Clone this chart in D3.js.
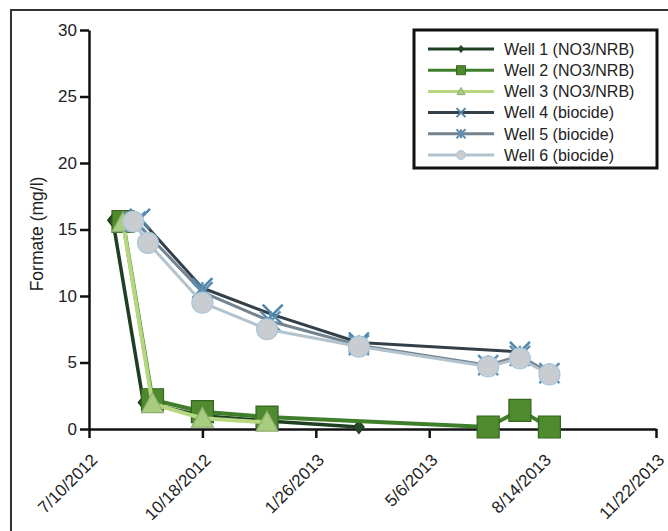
<!DOCTYPE html>
<html>
<head>
<meta charset="utf-8">
<script src="https://cdn.jsdelivr.net/npm/d3@7/dist/d3.min.js"></script>
<style>
  html, body { margin: 0; padding: 0; background: #fff; }
  svg { display: block; font-family: "Liberation Sans", Arial, Helvetica, sans-serif; }
</style>
</head>
<body>
<svg id="chart" width="668" height="531"></svg>
<script>
// Formate concentration per well over time
const well1Dates = ["7/31/2012", "8/27/2012", "10/18/2012", "12/14/2012", "3/5/2013"];
const well1Values = [15.7, 2.0, 1.0, 0.6, 0.15];

const well2Dates = ["8/9/2012", "9/4/2012", "10/18/2012", "12/14/2012", "6/27/2013", "7/25/2013", "8/20/2013"];
const well2Values = [15.6, 2.2, 1.3, 0.9, 0.15, 1.4, 0.15];

const well3Dates = ["8/9/2012", "9/4/2012", "10/18/2012", "12/14/2012"];
const well3Values = [15.5, 1.9, 0.8, 0.5];

const well4Dates = ["8/24/2012", "10/18/2012", "12/19/2012", "3/5/2013", "7/25/2013"];
const well4Values = [15.8, 10.6, 8.6, 6.5, 5.8];

const well5Dates = ["8/20/2012", "10/18/2012", "12/17/2012", "3/5/2013", "6/27/2013", "7/25/2013", "8/20/2013"];
const well5Values = [15.6, 10.3, 8.1, 6.3, 4.8, 5.5, 4.2];

const well6Dates = ["8/18/2012", "8/31/2012", "10/18/2012", "12/14/2012", "3/5/2013", "6/27/2013", "7/25/2013", "8/20/2013"];
const well6Values = [15.6, 14.0, 9.5, 7.5, 6.2, 4.7, 5.3, 4.1];

const seriesNames = ["Well 1 (NO3/NRB)", "Well 2 (NO3/NRB)", "Well 3 (NO3/NRB)",
                     "Well 4 (biocide)", "Well 5 (biocide)", "Well 6 (biocide)"];

const xTickLabels = ["7/10/2012", "10/18/2012", "1/26/2013", "5/6/2013", "8/14/2013", "11/22/2013"];
const yTickValues = [0, 5, 10, 15, 20, 25, 30];
const yLabel = "Formate (mg/l)";

const parse = d3.timeParse("%m/%d/%Y");

const styles = [
  { line: "#1f3f22", width: 3.5, marker: "diamond", fill: "#294a28", stroke: "#1f3a1f", size: 13, legSize: 7 },
  { line: "#3f7f2b", width: 4, marker: "square", fill: "#4f8a2f", stroke: "#35661f", size: 22, legSize: 9 },
  { line: "#b6d67f", width: 4, marker: "triangle", fill: "#a9cd7e", stroke: "#8fae73", size: 22, legSize: 8 },
  { line: "#33404a", width: 3, marker: "x", fill: "none", stroke: "#4f86a8", size: 20, legSize: 9 },
  { line: "#73838f", width: 3, marker: "asterisk", fill: "none", stroke: "#5e8eb2", size: 20, legSize: 9 },
  { line: "#b3c3ce", width: 3, marker: "circle", fill: "#c9cdd1", stroke: "#a9c6da", size: 21, legSize: 9 }
];

const seriesDates = [well1Dates, well2Dates, well3Dates, well4Dates, well5Dates, well6Dates];
const seriesValues = [well1Values, well2Values, well3Values, well4Values, well5Values, well6Values];
const series = seriesNames.map((name, i) => ({
  name,
  style: styles[i],
  points: seriesDates[i].map((d, j) => ({ date: parse(d), value: seriesValues[i][j] }))
}));

const svg = d3.select("#chart");

// outer frame
svg.append("rect")
  .attr("x", 11).attr("y", 10).attr("width", 700).attr("height", 600)
  .attr("fill", "none").attr("stroke", "#333").attr("stroke-width", 2);

const x = d3.scaleTime()
  .domain([parse(xTickLabels[0]), parse(xTickLabels[xTickLabels.length - 1])])
  .range([89, 656]);
const y = d3.scaleLinear().domain([0, 30]).range([429, 30]);

// y axis
const yAxis = svg.append("g")
  .attr("transform", "translate(89,0)")
  .call(d3.axisLeft(y).tickValues(yTickValues).tickSize(9).tickSizeOuter(0).tickPadding(3));
yAxis.select(".domain").attr("stroke", "#111").attr("stroke-width", 2.5);
yAxis.selectAll(".tick line").attr("stroke", "#111").attr("stroke-width", 2.5);
yAxis.selectAll(".tick text")
  .attr("font-size", 17).attr("fill", "#222")
  .attr("font-family", "Liberation Sans, Arial, sans-serif");

// x axis
const xAxis = svg.append("g")
  .attr("transform", "translate(0,429)")
  .call(d3.axisBottom(x)
    .tickValues(xTickLabels.map(parse))
    .tickFormat((d, i) => xTickLabels[i])
    .tickSize(9).tickSizeOuter(0));
xAxis.select(".domain").attr("stroke", "#111").attr("stroke-width", 2.5);
xAxis.selectAll(".tick line").attr("stroke", "#111").attr("stroke-width", 2.5);
xAxis.selectAll(".tick text")
  .attr("font-size", 17).attr("fill", "#222")
  .attr("font-family", "Liberation Sans, Arial, sans-serif")
  .attr("text-anchor", "end")
  .attr("y", 0).attr("dy", 0)
  .attr("transform", "translate(9,32) rotate(-45)");

// y axis title
svg.append("text")
  .attr("transform", "translate(43,234) rotate(-90)")
  .attr("text-anchor", "middle")
  .attr("font-size", 17.5)
  .attr("fill", "#222")
  .text(yLabel);

// marker paths
function markerPath(type, s) {
  const h = s / 2;
  switch (type) {
    case "diamond": return `M0,${-h}L${h * 0.8},0L0,${h}L${-h * 0.8},0Z`;
    case "square": return `M${-h},${-h}H${h}V${h}H${-h}Z`;
    case "triangle": return `M0,${-h}L${h},${h * 0.8}L${-h},${h * 0.8}Z`;
    case "circle": return d3.symbol(d3.symbolCircle, Math.PI * h * h)();
    case "x": return `M${-h},${-h}L${h},${h}M${-h},${h}L${h},${-h}`;
    case "asterisk": return `M${-h},${-h}L${h},${h}M${-h},${h}L${h},${-h}M0,${-h}V${h}`;
  }
}

const line = d3.line().x(d => x(d.date)).y(d => y(d.value));
const plot = svg.append("g");

series.forEach(s => {
  const g = plot.append("g");
  g.append("path")
    .datum(s.points)
    .attr("d", line)
    .attr("fill", "none")
    .attr("stroke", s.style.line)
    .attr("stroke-width", s.style.width)
    .attr("stroke-linejoin", "round");
  g.selectAll("path.m")
    .data(s.points)
    .join("path")
    .attr("class", "m")
    .attr("transform", d => `translate(${x(d.date)},${y(d.value)})`)
    .attr("d", markerPath(s.style.marker, s.style.size))
    .attr("fill", s.style.fill)
    .attr("stroke", s.style.stroke)
    .attr("stroke-width", s.style.marker === "x" || s.style.marker === "asterisk" ? 2.5 : 1.2);
});

// legend
const legend = svg.append("g");
legend.append("rect")
  .attr("x", 414).attr("y", 30).attr("width", 243).attr("height", 138)
  .attr("fill", "#fff").attr("stroke", "#111").attr("stroke-width", 3);

series.forEach((s, i) => {
  const ly = 49 + i * 21.2;
  const row = legend.append("g");
  row.append("line")
    .attr("x1", 428).attr("x2", 494).attr("y1", ly).attr("y2", ly)
    .attr("stroke", s.style.line).attr("stroke-width", 3);
  row.append("path")
    .attr("transform", `translate(461,${ly})`)
    .attr("d", markerPath(s.style.marker, s.style.legSize))
    .attr("fill", s.style.fill)
    .attr("stroke", s.style.stroke)
    .attr("stroke-width", s.style.marker === "x" || s.style.marker === "asterisk" ? 2 : 1);
  row.append("text")
    .attr("x", 504).attr("y", ly).attr("dy", "0.36em")
    .attr("font-size", 16).attr("fill", "#222")
    .text(s.name);
});
</script>
</body>
</html>
